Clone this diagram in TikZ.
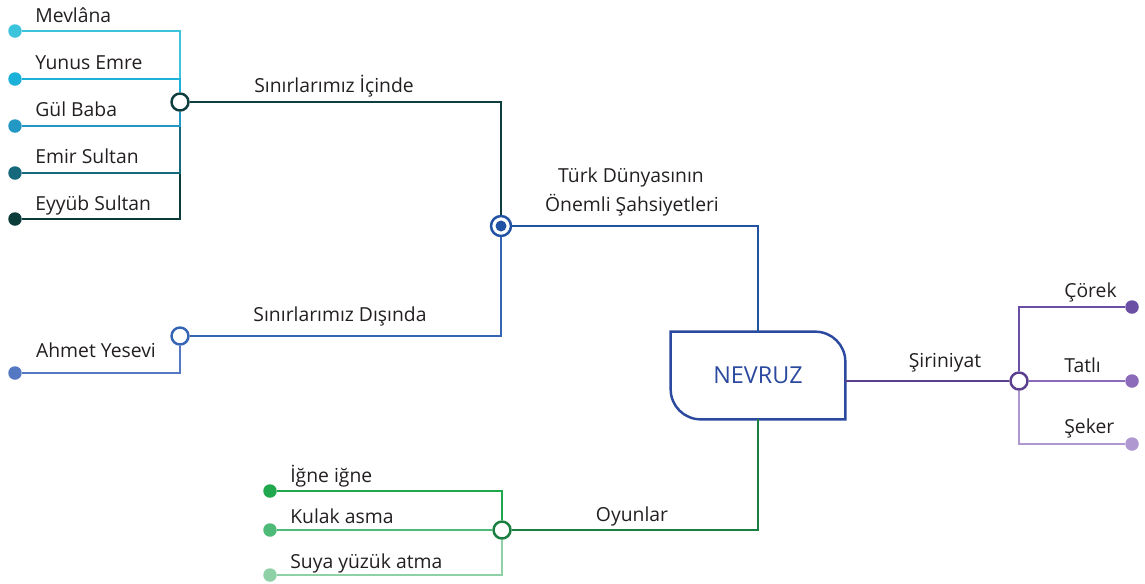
\documentclass[tikz,border=0pt]{standalone}
\usepackage{fontspec}
\setmainfont{Open Sans}
\usetikzlibrary{positioning}

\definecolor{mevC}{HTML}{3DC4DD}
\definecolor{yunC}{HTML}{1BB1D9}
\definecolor{gulC}{HTML}{2398C5}
\definecolor{emiC}{HTML}{15697B}
\definecolor{eyyC}{HTML}{0B3C3A}
\definecolor{iciC}{HTML}{0F3E41}
\definecolor{turkC}{HTML}{2152A3}
\definecolor{disC}{HTML}{3565B2}
\definecolor{ahmC}{HTML}{5478C1}
\definecolor{nevC}{HTML}{2B4A9F}
\definecolor{sirC}{HTML}{5B3E8E}
\definecolor{corC}{HTML}{6A4FA4}
\definecolor{tatC}{HTML}{8C6CBA}
\definecolor{sekC}{HTML}{AF98CF}
\definecolor{oyuC}{HTML}{187F3F}
\definecolor{igneC}{HTML}{1FA84D}
\definecolor{kulC}{HTML}{4EBA77}
\definecolor{suyC}{HTML}{8FD1A7}
\definecolor{txtC}{HTML}{231F20}

\tikzset{
  hub/.style={circle, draw=#1, fill=white, line width=1.4pt, inner sep=0pt, minimum size=0.34cm},
  leaf/.style={circle, fill=#1, inner sep=0pt, minimum size=0.27cm},
  branch/.style={draw=#1, line width=1.4pt},
  lbl/.style={font=\fontsize{11}{16.4}\selectfont, text=txtC, inner sep=0pt},
}

\begin{document}
\begin{tikzpicture}[x=0.02cm, y=-0.02cm]
\useasboundingbox (0,0) rectangle (1145,583);

% hubs
\node[hub=iciC] (inside) at (180,102) {};
\node[hub=turkC, minimum size=0.4cm] (center) at (501,226) {};
\node[hub=disC] (outside) at (180,336) {};
\node[hub=sirC] (sweet) at (1019,381) {};
\node[hub=oyuC] (games) at (502,530) {};
\node[text=nevC, font=\fontsize{13.3}{16}\selectfont, minimum width=3.48cm, minimum height=1.74cm, inner sep=0pt] (nevruz) at (758,375.5) {NEVRUZ};
\draw[nevC, line width=1.4pt] (nevruz.north west) -- ([xshift=-0.6cm]nevruz.north east) arc[start angle=90, end angle=0, radius=0.6cm]
  -- (nevruz.south east) -- ([xshift=0.6cm]nevruz.south west) arc[start angle=270, end angle=180, radius=0.6cm] -- cycle;

% leaves
\node[leaf=mevC] (mev) at (15,31) {};
\node[leaf=yunC] (yun) at (15,79) {};
\node[leaf=gulC] (gul) at (15,126) {};
\node[leaf=emiC] (emi) at (15,173) {};
\node[leaf=eyyC] (eyy) at (15,219) {};
\node[leaf=ahmC] (ahm) at (15,373) {};
\node[leaf=corC] (cor) at (1132,307) {};
\node[leaf=tatC] (tat) at (1132,381) {};
\node[leaf=sekC] (sek) at (1132,444) {};
\node[leaf=igneC] (igne) at (270,491) {};
\node[leaf=kulC] (kul) at (270,530) {};
\node[leaf=suyC] (suy) at (270,575) {};

% labels
\node[lbl, anchor=base west] (mevT) at (35,22) {Mevlâna};
\node[lbl, anchor=base west] (yunT) at (35,69) {Yunus Emre};
\node[lbl, anchor=base west] (gulT) at (35,116) {Gül Baba};
\node[lbl, anchor=base west] (emiT) at (35,163) {Emir Sultan};
\node[lbl, anchor=base west] (eyyT) at (35,210) {Eyyüb Sultan};
\node[lbl, anchor=base] (iciT) at (334,92) {Sınırlarımız İçinde};
\node[lbl, anchor=base] (turkT) at (631,182) {Türk Dünyasının};
\node[lbl, anchor=base] (turkT2) at (632,211) {Önemli Şahsiyetleri};
\node[lbl, anchor=base] (disT) at (340,321) {Sınırlarımız Dışında};
\node[lbl, anchor=base] (ahmT) at (96,357) {Ahmet Yesevi};
\node[lbl, anchor=base] (sirT) at (945,367) {Şiriniyat};
\node[lbl, anchor=base west] (corT) at (1064,297) {Çörek};
\node[lbl, anchor=base west] (tatT) at (1064,372) {Tatlı};
\node[lbl, anchor=base west] (sekT) at (1064,433) {Şeker};
\node[lbl, anchor=base] (oyuT) at (632,521) {Oyunlar};
\node[lbl, anchor=base west] (igneT) at (290,482) {İğne iğne};
\node[lbl, anchor=base west] (kulT) at (290,523) {Kulak asma};
\node[lbl, anchor=base west] (suyT) at (290,568) {Suya yüzük atma};

% connectors
\draw[branch=mevC] (mev) -| (inside);
\draw[branch=yunC] (yun) -| (inside);
\draw[branch=eyyC] (eyy) -| (inside);
\draw[branch=emiC] (emi) -| (inside);
\draw[branch=gulC] (gul) -| (inside);
\draw[branch=iciC] (inside) -| (center);
\draw[branch=turkC] (center) -| (nevruz);
\draw[branch=disC] (center) |- (outside);
\draw[branch=ahmC] (outside) |- (ahm);
\draw[branch=sirC] (nevruz.east |- sweet) -- (sweet);
\draw[branch=corC] (sweet) |- (cor);
\draw[branch=tatC] (sweet) -- (tat);
\draw[branch=sekC] (sweet) |- (sek);
\draw[branch=oyuC] (nevruz) |- (games);
\draw[branch=igneC] (games) |- (igne);
\draw[branch=kulC] (games) -- (kul);
\draw[branch=suyC] (games) |- (suy);
\node[leaf=turkC, minimum size=0.22cm] (centerdot) at (center) {};
\end{tikzpicture}
\end{document}
